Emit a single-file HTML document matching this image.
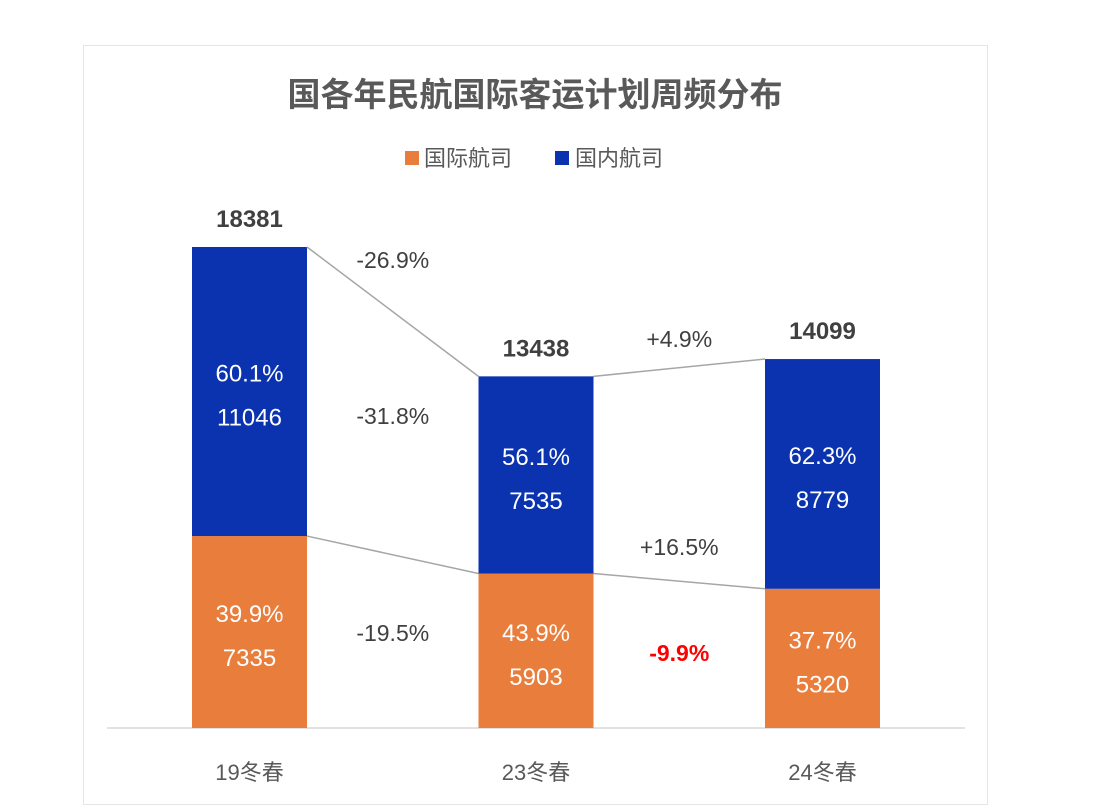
<!DOCTYPE html>
<html><head><meta charset="utf-8"><style>
body{margin:0;background:#fff;width:1104px;height:810px;overflow:hidden;font-family:"Liberation Sans","Noto Sans CJK SC",sans-serif}
#frame{position:absolute;left:83px;top:45px;width:905px;height:760px;border:1px solid #e6e6e6;box-sizing:border-box}
</style></head><body>
<div id="frame"></div>
<svg id="chart" width="1104" height="810" style="position:absolute;left:0;top:0">
<text x="535" y="106" text-anchor="middle" font-size="33" font-weight="bold" fill="#595959">国各年民航国际客运计划周频分布</text>
<g>
<rect x="405" y="151" width="14" height="14" fill="#e97d3b"/>
<text x="424" y="166" font-size="22" fill="#595959">国际航司</text>
<rect x="555" y="151" width="14" height="14" fill="#0b33b0"/>
<text x="575" y="166" font-size="22" fill="#595959">国内航司</text>
</g>
<line x1="107" y1="728" x2="965" y2="728" stroke="#d9d9d9" stroke-width="1.5"/>
</svg>
<script>
const categories=["19冬春","23冬春","24冬春"];
const intl=[7335,5903,5320];
const dom=[11046,7535,8779];
const totals=[18381,13438,14099];
const intlPct=["39.9%","43.9%","37.7%"];
const domPct=["60.1%","56.1%","62.3%"];
const totalChg=["-26.9%","+4.9%"];
const domChg=["-31.8%","+16.5%"];
const intlChg=["-19.5%","-9.9%"];
const svg=document.getElementById('chart');
const NS='http://www.w3.org/2000/svg';
const base=728, k=481/18381, bw=115;
const xc=i=>249.5+i*286.5;
const y=v=>base-v*k;
function mk(t,a,txt){const e=document.createElementNS(NS,t);for(const n in a)e.setAttribute(n,a[n]);if(txt!=null)e.textContent=txt;svg.appendChild(e);return e;}
categories.forEach((c,i)=>{
  const x0=xc(i)-bw/2, yi=y(intl[i]), yt=y(intl[i]+dom[i]);
  let r=mk('rect',{x:x0,y:yi,width:bw,height:base-yi,fill:'#e97d3b'});
  
  
  r=mk('rect',{x:x0,y:yt,width:bw,height:yi-yt,fill:'#0b33b0'});
  
  
  let t=mk('text',{x:xc(i),y:(yi+base)/2-10,'text-anchor':'middle','font-size':24,fill:'#fff'},intlPct[i]);
  
  t=mk('text',{x:xc(i),y:(yi+base)/2+34,'text-anchor':'middle','font-size':24,fill:'#fff'},intl[i]);
  
  t=mk('text',{x:xc(i),y:(yt+yi)/2-10,'text-anchor':'middle','font-size':24,fill:'#fff'},domPct[i]);
  
  t=mk('text',{x:xc(i),y:(yt+yi)/2+34,'text-anchor':'middle','font-size':24,fill:'#fff'},dom[i]);
  
  t=mk('text',{x:xc(i),y:yt-20,'text-anchor':'middle','font-size':24,'font-weight':'bold',fill:'#404040'},totals[i]);
  
  t=mk('text',{x:xc(i),y:780,'text-anchor':'middle','font-size':22,fill:'#595959'},c);
  
});
for(let i=0;i<2;i++){
  const xa=xc(i)+bw/2, xb=xc(i+1)-bw/2, xm=(xa+xb)/2;
  const yt0=y(totals[i]), yt1=y(totals[i+1]), ys0=y(intl[i]), ys1=y(intl[i+1]);
  let l=mk('line',{x1:xa,y1:yt0,x2:xb,y2:yt1,stroke:'#a6a6a6','stroke-width':1.5});
  
  l=mk('line',{x1:xa,y1:ys0,x2:xb,y2:ys1,stroke:'#a6a6a6','stroke-width':1.5});
  
  let t=mk('text',{x:xm,y:i==0?268:347,'text-anchor':'middle','font-size':23,fill:'#404040'},totalChg[i]);
  
  t=mk('text',{x:xm,y:i==0?424:555,'text-anchor':'middle','font-size':23,fill:'#404040'},domChg[i]);
  
  const red=intlChg[i].startsWith('-9');
  t=mk('text',{x:xm,y:i==0?641:661,'text-anchor':'middle','font-size':23,fill:red?'#ff0000':'#404040','font-weight':red?'bold':'normal'},intlChg[i]);
  
}
</script>
</body></html>
